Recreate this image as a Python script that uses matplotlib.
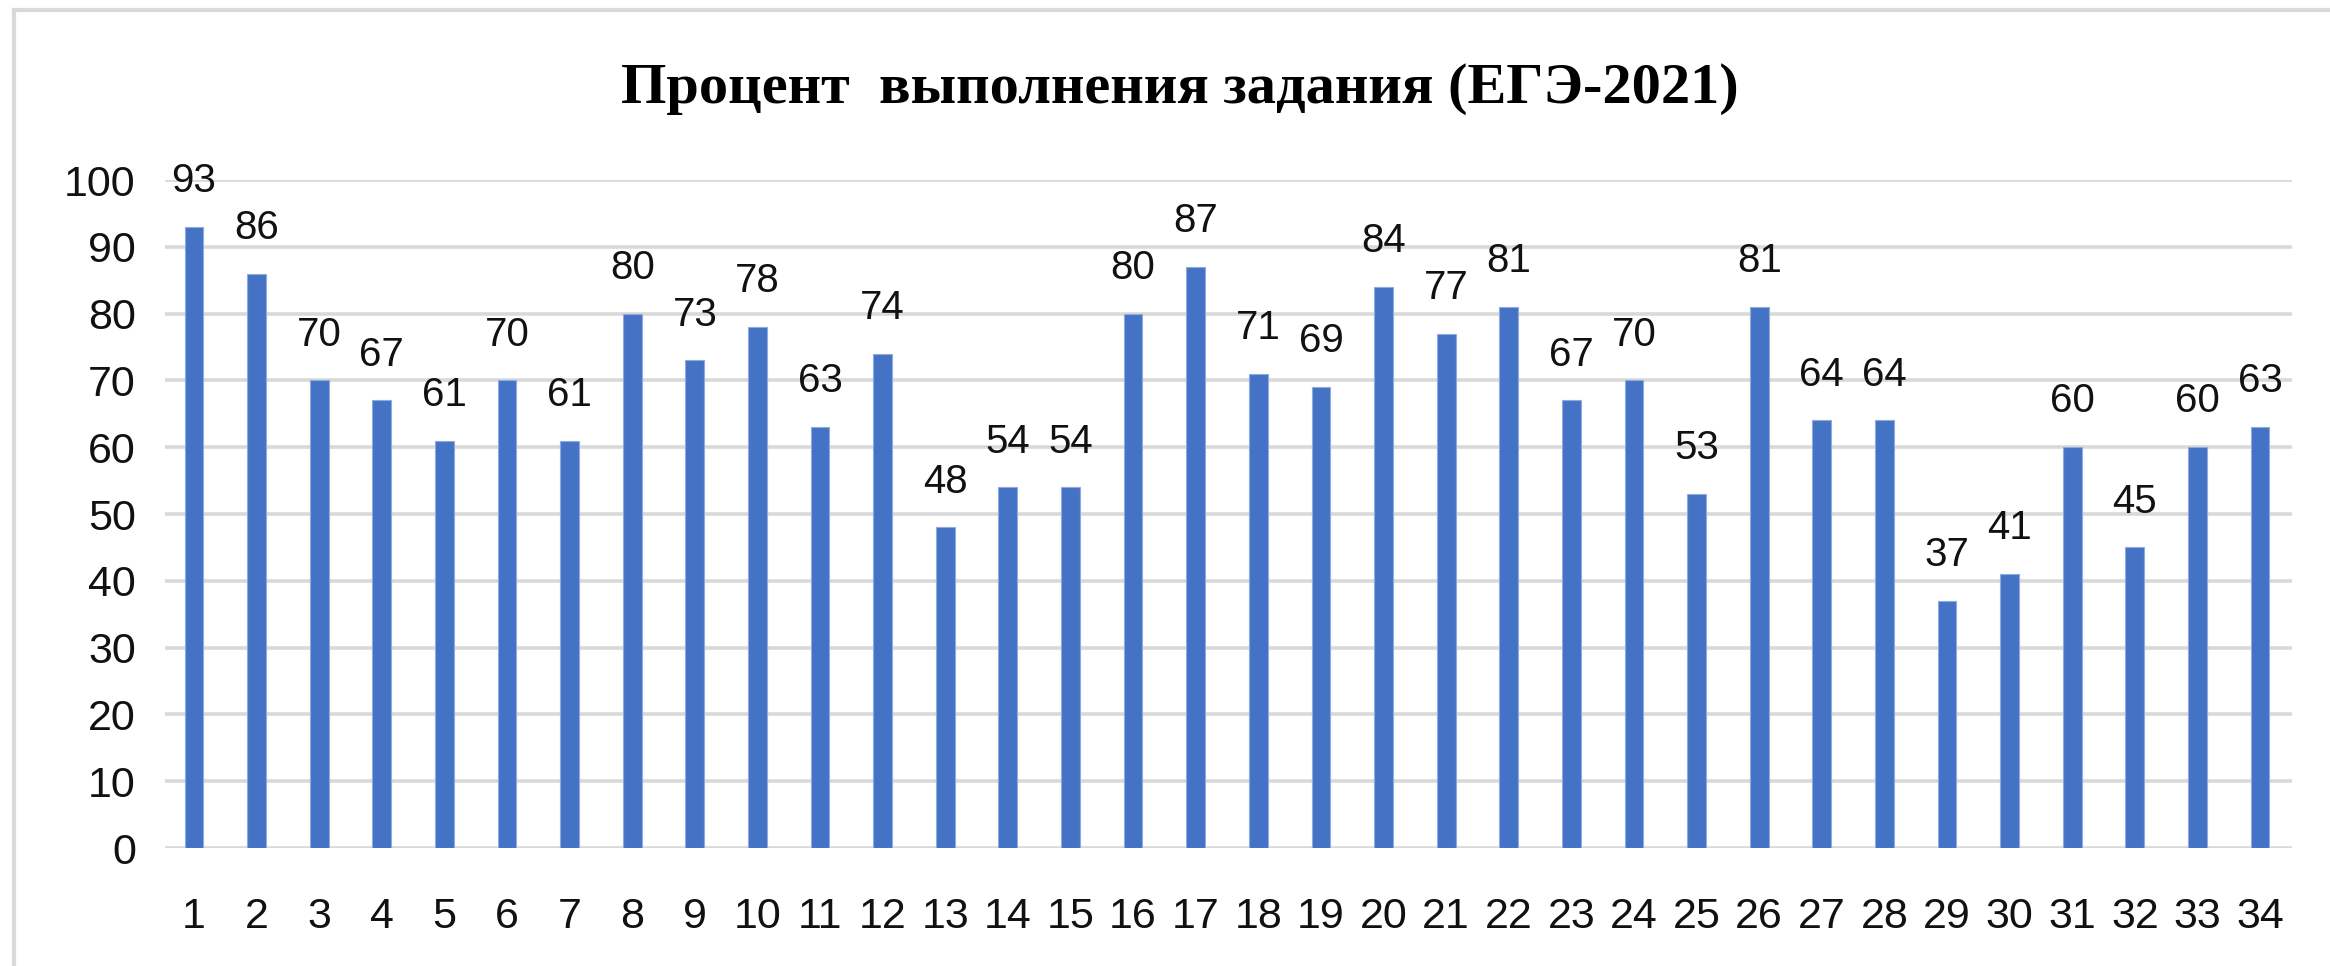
import matplotlib.pyplot as plt
from matplotlib.lines import Line2D

# данные
zadaniya = [str(i) for i in range(1, 35)]
procent = [93, 86, 70, 67, 61, 70, 61, 80, 73, 78, 63, 74, 48, 54, 54, 80, 87,
           71, 69, 84, 77, 81, 67, 70, 53, 81, 64, 64, 37, 41, 60, 45, 60, 63]
y_ticks = [0, 10, 20, 30, 40, 50, 60, 70, 80, 90, 100]
title = 'Процент  выполнения задания (ЕГЭ-2021)'

plt.rcParams['font.family'] = ['Liberation Sans', 'DejaVu Sans']

fig = plt.figure(figsize=(23.3, 9.66), dpi=100)
ax = fig.add_axes([0.0708, 0.12215, 0.98369 - 0.0708, 0.81366 - 0.12215])

x = list(range(len(zadaniya)))
bars = ax.bar(x, procent, width=0.30, color='#4472C4', edgecolor='#8faadc',
              linewidth=0.8, zorder=3)

for xi, v in zip(x, procent):
    ax.annotate(str(v), (xi, v), xytext=(0, 25), textcoords='offset points',
                ha='center', va='baseline', fontsize=29, color='#111111')

ax.set_xlim(-0.463, 33.51)
ax.set_ylim(0, 100)
ax.set_yticks(y_ticks)
ax.set_xticks(x)
ax.set_xticklabels(zadaniya)
ax.tick_params(axis='both', length=0, labelsize=31, colors='#111111')
ax.tick_params(axis='y', pad=21)
ax.tick_params(axis='x', pad=35)

ax.yaxis.grid(True, color='#d9d9d9', linewidth=2.6, zorder=0)
ax.set_axisbelow(True)
for s in ax.spines.values():
    s.set_visible(False)
ax.patch.set_alpha(0)

fig.text(0.5062, 0.8934, title, ha='center', va='baseline', fontsize=42,
         fontweight='bold', family=['Liberation Serif', 'DejaVu Serif'])

# рамка области диаграммы
fig.add_artist(Line2D([14 / 2330, 14 / 2330], [0, 1 - 10 / 966],
                      transform=fig.transFigure, color='#d9d9d9', linewidth=3))
fig.add_artist(Line2D([14 / 2330, 1], [1 - 10 / 966, 1 - 10 / 966],
                      transform=fig.transFigure, color='#d9d9d9', linewidth=3))

fig.savefig('out.png', dpi=100)
